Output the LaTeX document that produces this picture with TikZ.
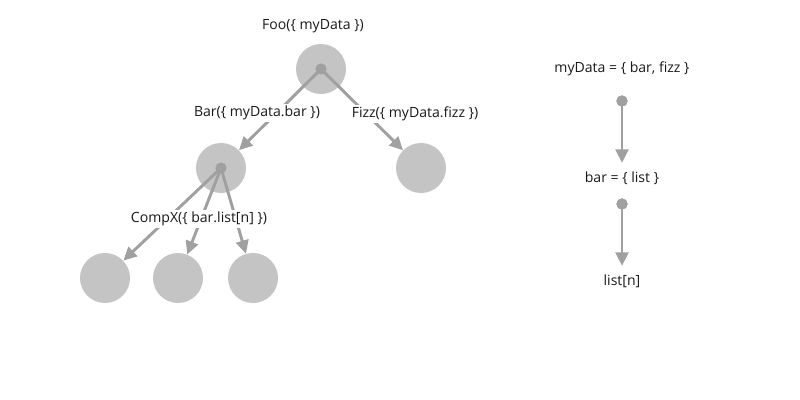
\documentclass[tikz,border=0pt]{standalone}
\usepackage{fontspec}
\setmainfont{Open Sans}
\usepackage{xcolor}
\usetikzlibrary{arrows.meta}
\definecolor{circgray}{HTML}{C4C4C4}
\definecolor{linkgray}{HTML}{A0A0A0}

\begin{document}
\begin{tikzpicture}[x=0.025cm, y=-0.025cm, >={Triangle[length=9.5pt, width=9pt]},
  comp/.style={circle, fill=circgray, minimum size=1.25cm, inner sep=0pt},
  dot/.style={circle, fill=linkgray, minimum size=0.28cm, inner sep=0pt},
  link/.style={->, linkgray, line width=2.1pt},
  txt/.style={font=\fontsize{10}{12}\selectfont, text=black!90, inner sep=1.5pt}]
\useasboundingbox (0,0) rectangle (800,400);
% tree of components
\node[comp] (foo) at (321,69) {};
\node[comp] (bar) at (221,168) {};
\node[comp] (fizz) at (421,168) {};
\node[comp] (item1) at (105,278) {};
\node[comp] (item2) at (178,278) {};
\node[comp] (item3) at (253,278) {};
\draw[link] (foo.center) -- (bar);
\draw[link] (foo.center) -- (fizz);
\foreach \p in {item1,item2,item3}{
    \draw[link] (bar.center) -- (\p);
}
\node[dot] at (foo) {};
\node[dot] at (bar) {};
\node[txt] (foolabel) at (313,26) {Foo(\{ myData \})};
\node[txt, fill=white] (barlabel) at (257,113) {Bar(\{ myData.bar \})};
\node[txt, fill=white] (fizzlabel) at (415,114) {Fizz(\{ myData.fizz \})};
\node[txt, fill=white] (complabel) at (199,219) {CompX(\{ bar.list[n] \})};
% data shape
\node[txt] (mydata) at (622,69) {myData = \{ bar, fizz \}};
\node[txt] (bardata) at (622,178) {bar = \{ list \}};
\node[txt] (listdata) at (622,281) {list[n]};
\node[dot] (d1) at (622,101) {};
\node[dot] (d2) at (622,204) {};
\draw[link, shorten >=4.5pt] (d1.center) -- (bardata);
\draw[link, shorten >=4.5pt] (d2.center) -- (listdata);
\node[dot] at (d1) {};
\node[dot] at (d2) {};
\end{tikzpicture}
\end{document}
